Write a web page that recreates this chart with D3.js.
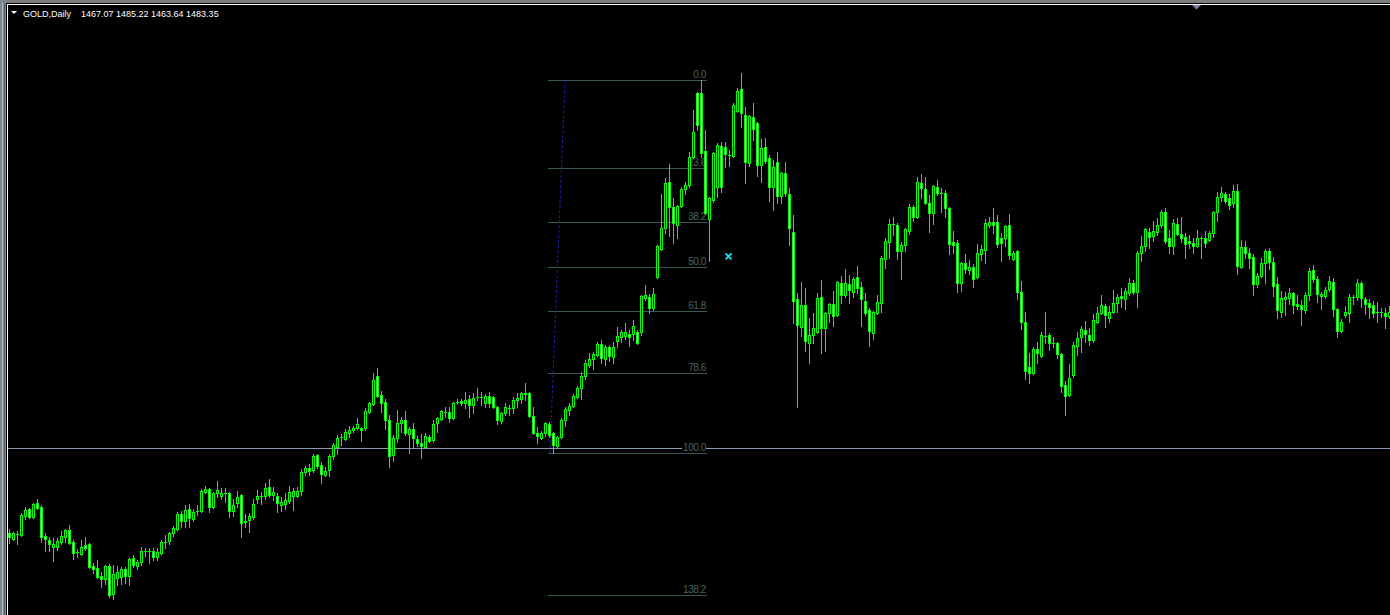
<!DOCTYPE html>
<html>
<head>
<meta charset="utf-8">
<script src="https://cdn.jsdelivr.net/npm/d3@7"></script>
<style>
html, body { margin: 0; padding: 0; background: #000; overflow: hidden; }
</style>
</head>
<body>
<div id="chart"></div>
<script>
// GOLD daily bars (oldest first)
var open = [
1373.5,1370.5,1373,1372.5,1382,1385.5,1381.5,1388.5,1386.5,1372,
1370,1366.5,1366.5,1369,1371.5,1375,1369,1364,1363,1367.5,
1368,1357,1356,1352,1350.5,1357,1343,1351,1351.5,1355.5,
1352,1361,1357,1359,1364.5,1364.5,1364.5,1361.5,1363.5,1369,
1369.5,1373.5,1375.5,1383,1379.5,1385.5,1380.5,1384.5,1384.5,1394,
1395.5,1386.5,1393.5,1392,1393.5,1393.5,1384.5,1388.5,1392.5,1379.5,
1380,1381.5,1390.5,1392,1392,1396.5,1392.5,1392,1387.5,1388,
1389.5,1392,1392,1394.5,1404,1406,1405,1412.5,1407.5,1402.5,
1405,1412,1416.5,1421.5,1420.5,1423.5,1425,1426,1426,1426,
1434,1438,1452,1442.5,1439,1430,1412.5,1421,1428.5,1430,
1423,1425.5,1420.5,1418.5,1416.5,1421.5,1420,1428.5,1430.5,1434,
1434,1431,1439,1439.5,1438.5,1440.5,1437.5,1441.5,1441.5,1438.5,
1442,1441.5,1436.5,1429.5,1433.5,1436,1436,1440,1440.5,1443.5,
1443.5,1432,1423.5,1421,1423.5,1428,1423.5,1417,1421.5,1430,
1435,1437,1441.5,1446,1452,1457.5,1460.5,1462.5,1468,1460.5,
1466.5,1461.5,1469.5,1471.5,1472,1473,1473,1474,1474,1491,
1491.5,1486,1501.5,1515.5,1526,1549,1536.5,1527.5,1537,1545.5,
1547.5,1561.5,1593.5,1593.5,1564.5,1530.5,1540,1546.5,1567,1566.5,
1562.5,1562,1584.5,1595.5,1582.5,1558.5,1581.5,1578.5,1557.5,1566.5,
1561,1546.5,1559,1542,1553.5,1543,1524,1490.5,1476.5,1487.5,
1468.5,1472.5,1474,1491.5,1476,1483.5,1488,1482.5,1498.5,1492.5,
1498,1494,1501.5,1496.5,1489.5,1485,1473.5,1483.5,1488.5,1510.5,
1519,1528,1527.5,1514.5,1517.5,1524.5,1536.5,1531.5,1548.5,1545.5,
1538.5,1533.5,1546.5,1543.5,1543.5,1536,1519,1518.5,1498.5,1508.5,
1505,1506.5,1501.5,1513,1515,1527.5,1529,1529,1521,1521,
1527.5,1510.5,1514.5,1494,1479,1456.5,1453.5,1465.5,1462,1472,
1472.5,1468.5,1468.5,1463,1447.5,1442.5,1452.5,1467,1471.5,1475,
1472.5,1470,1479,1483.5,1487,1481,1484,1488.5,1492,1490.5,
1493.5,1498.5,1494,1513.5,1517,1524,1522,1524,1527.5,1534,
1521,1517,1528,1523,1521.5,1519.5,1518.5,1517,1521,1521,
1520,1523.5,1534,1541.5,1543,1541,1538.5,1544.5,1506.5,1516.5,
1513.5,1511.5,1498,1502,1508.5,1514.5,1509,1498,1484,1490.5,
1491,1493.5,1488,1487.5,1485,1492.5,1505,1500.5,1492,1492,
1495.5,1499,1485.5,1474.5,1482.5,1483.5,1491.5,1491.5,1498.5,1490.5,
1488.5,1487.5,1484,1484,1483.5,1482
];
var high = [
1375.5,1374,1374.5,1383.5,1386.5,1386,1388.5,1390.5,1387.5,1373.5,
1371.5,1371,1371,1374.5,1375.5,1377.5,1370,1365.5,1370,1371.5,
1368.5,1358.5,1360,1354,1357.5,1358,1357.5,1357,1356.5,1356.5,
1361,1362.5,1360,1366.5,1366,1366,1366,1366,1370,1372.5,
1374,1377,1384,1384.5,1387.5,1388,1385.5,1387.5,1395.5,1397,
1396,1394,1399.5,1396,1396,1394,1390.5,1394.5,1393,1383,
1383.5,1390.5,1395,1394,1398.5,1400.5,1396.5,1393.5,1391.5,1393.5,
1397,1396,1396.5,1405.5,1407,1408,1413,1413,1409,1406.5,
1413,1418.5,1422.5,1423,1425.5,1427,1427,1431,1426.5,1436,
1439,1453.5,1456,1444.5,1440.5,1432.5,1422.5,1435,1431.5,1434.5,
1426.5,1428.5,1422,1423,1423.5,1422.5,1430,1431.5,1435,1436.5,
1436.5,1439,1440.5,1440.5,1444,1442.5,1443.5,1446,1444,1443,
1444,1442,1437,1434,1438.5,1437.5,1441.5,1443.5,1444,1448.5,
1444,1436.5,1426.5,1424.5,1429,1429,1424,1422,1431,1436.5,
1438.5,1443,1447,1454,1460,1463.5,1464,1469,1470,1467.5,
1467.5,1469,1476.5,1475,1478.5,1475,1480,1475,1492.5,1497.5,
1493,1496,1517.5,1543,1551,1558,1541,1537.5,1546.5,1549,
1564,1585,1594,1600,1575,1541.5,1564,1568.5,1569,1569,
1565,1588.5,1596,1603.5,1586.5,1582.5,1588.5,1579,1570.5,1571,
1562.5,1560,1564,1554,1559,1546,1532.5,1493.5,1499,1496,
1481,1483.5,1493.5,1500,1484,1488.5,1494.5,1499.5,1502,1505.5,
1502.5,1501.5,1507,1499,1493.5,1486,1484.5,1492.5,1512,1521,
1530.5,1531.5,1528.5,1519,1526,1538,1537.5,1551.5,1553,1551.5,
1542.5,1547.5,1550,1546,1545,1536.5,1524.5,1520,1509,1513,
1510,1508,1518,1517.5,1530.5,1531.5,1536,1532.5,1523.5,1527.5,
1533,1514.5,1515,1499.5,1484,1463.5,1466.5,1469,1474,1484,
1473.5,1471.5,1469,1463.5,1449.5,1458,1469,1474,1477,1479.5,
1476,1483,1486.5,1492.5,1488,1487,1495,1493,1496,1496,
1501,1500,1514.5,1522,1526,1526,1529.5,1531,1535,1536,
1525,1530.5,1531,1531.5,1523.5,1522.5,1521,1525,1522,1524.5,
1524.5,1534.5,1544,1546.5,1544,1543,1547.5,1548,1520,1519.5,
1516,1513,1503.5,1511,1515.5,1516,1511.5,1501.5,1494.5,1494,
1496,1494,1492.5,1490,1494,1506,1507.5,1502,1494,1496.5,
1502,1501,1486,1480.5,1487,1493,1492.5,1500.5,1499.5,1491.5,
1490.5,1489.5,1489,1486,1486,1487
];
var low = [
1368.5,1370,1368,1372,1380.5,1381,1381,1385.5,1369,1364.5,
1364.5,1359.5,1365,1368,1369,1368,1360.5,1361.5,1362.5,1365,
1356,1353.5,1351,1346.5,1348,1341.5,1340.5,1347.5,1348,1348.5,
1347.5,1356.5,1355.5,1357.5,1362,1358.5,1360,1360,1363,1366,
1368,1372,1375,1376.5,1376.5,1376.5,1379.5,1382.5,1384,1393.5,
1384,1386,1391.5,1390.5,1389,1381.5,1382,1386.5,1371.5,1376.5,
1374,1380.5,1388.5,1388,1390.5,1391.5,1390,1384,1384.5,1385.5,
1388.5,1385,1391.5,1392.5,1402.5,1402.5,1404,1406,1398.5,1402,
1402,1410.5,1413,1417.5,1420,1421.5,1424,1425.5,1419.5,1425,
1433.5,1437.5,1441.5,1434,1425.5,1406.5,1409.5,1419,1424,1422.5,
1413.5,1416,1417,1411,1416,1419,1419,1424,1430,1431.5,
1429,1430.5,1438,1437.5,1436,1431.5,1433.5,1440,1437.5,1436.5,
1436.5,1436,1428,1428.5,1432.5,1432.5,1433.5,1436.5,1438.5,1440,
1431.5,1423,1418.5,1420.5,1422,1421.5,1413.5,1416.5,1421,1427,
1432.5,1436.5,1441,1440.5,1450.5,1456.5,1455.5,1462,1458.5,1457.5,
1459.5,1458.5,1466.5,1469,1470.5,1467,1470,1468,1472.5,1490,
1483.5,1485,1501,1515,1523.5,1522,1518.5,1521,1536.5,1543,
1546.5,1561,1575,1561.5,1533,1509.5,1539,1541.5,1544,1556.5,
1557,1561.5,1584,1576.5,1548.5,1557,1570,1552,1549,1558.5,
1539.5,1535,1538.5,1538.5,1542,1517.5,1478.5,1436.5,1472,1464.5,
1458.5,1468.5,1473.5,1463.5,1464.5,1479,1477,1482,1488.5,1491.5,
1488.5,1491.5,1493.5,1477,1482.5,1467,1470.5,1483,1484,1506,
1511,1522.5,1510.5,1500.5,1514.5,1523,1529.5,1531,1541,1538,
1524,1528,1542.5,1534,1531.5,1513,1513.5,1494,1494.5,1503.5,
1503,1496.5,1501,1510,1508.5,1526.5,1523.5,1516.5,1509.5,1517,
1510.5,1510,1490.5,1475.5,1450.5,1448.5,1453,1458.5,1461.5,1468.5,
1465,1466.5,1461,1444,1432.5,1442,1451.5,1462.5,1464,1469,
1467.5,1469,1478.5,1483,1476.5,1479,1483.5,1484,1486.5,1485.5,
1492.5,1493,1486.5,1509.5,1514.5,1516,1519.5,1522.5,1526.5,1518.5,
1513.5,1513,1522.5,1519,1511,1516,1513.5,1516.5,1511,1516.5,
1519.5,1521.5,1529.5,1539.5,1538.5,1535.5,1536.5,1503,1506,1511,
1506,1492.5,1496.5,1501.5,1498.5,1505.5,1492,1481,1481.5,1482.5,
1488,1483.5,1485.5,1477.5,1483.5,1490,1499,1489,1485.5,1491,
1494.5,1482,1471.5,1474,1481.5,1479,1488,1490,1486.5,1483,
1481,1481.5,1479,1481.5,1476,1481
];
var close = [
1371.5,1373.5,1373,1382.5,1385,1381.5,1388,1386,1371.5,1370.5,
1368,1368,1369.5,1372,1375,1368.5,1363.5,1364,1366.5,1366,
1356.5,1355.5,1351.5,1350.5,1357,1342.5,1353,1354,1355.5,1352,
1360.5,1357.5,1359,1364.5,1364.5,1364.5,1361.5,1364,1369,1369,
1373.5,1376,1383,1379.5,1385,1381,1384,1384.5,1394.5,1395.5,
1386.5,1393.5,1395,1393.5,1393.5,1384.5,1387.5,1391.5,1378.5,1379,
1382,1388,1392,1392,1396,1392.5,1394,1388.5,1389,1390,
1394,1394.5,1394.5,1404,1406,1404.5,1412,1407,1403,1404.5,
1412,1417.5,1421,1421.5,1424,1425,1426,1428,1425,1434.5,
1438.5,1450,1442,1438.5,1430,1412,1421,1428.5,1430,1423.5,
1425.5,1421,1418.5,1417,1422,1419.5,1428,1431,1434.5,1434,
1431,1438.5,1439,1438.5,1440,1437.5,1441,1441.5,1441.5,1442,
1438.5,1436.5,1430,1433.5,1436.5,1436,1440,1441,1443.5,1443,
1432,1423.5,1422,1423.5,1428.5,1422.5,1417.5,1421.5,1430,1435.5,
1437,1442,1446,1452,1458.5,1460.5,1463,1468,1461,1466.5,
1462,1466.5,1472,1474,1474,1471.5,1477,1468.5,1492,1492.5,
1486,1493,1517,1526,1548.5,1536.5,1528.5,1537,1545.5,1547.5,
1561.5,1574,1577.5,1563.5,1533.5,1541,1563.5,1567.5,1546.5,1563,
1562.5,1587.5,1594.5,1583.5,1559,1582,1575.5,1557.5,1566,1559.5,
1546.5,1556.5,1542,1553.5,1543.5,1526,1489.5,1477.5,1487.5,1469.5,
1472.5,1476,1491,1476,1483.5,1488,1482,1499,1492.5,1498.5,
1495,1500.5,1496,1490.5,1483.5,1474.5,1484,1489,1511,1519.5,
1528,1528,1514.5,1517.5,1525.5,1536.5,1531.5,1549,1546,1538.5,
1533.5,1547,1543.5,1543.5,1536,1518,1517.5,1498.5,1508.5,1505.5,
1506.5,1500.5,1513.5,1515.5,1528.5,1529,1527.5,1518,1518.5,1527,
1512.5,1513.5,1494,1479,1454.5,1453.5,1465.5,1463.5,1472.5,1472,
1468.5,1468.5,1463,1447,1442,1451,1467.5,1471,1475.5,1473,
1470,1480,1483.5,1487.5,1482.5,1484,1488.5,1491.5,1491,1494.5,
1498.5,1494,1513.5,1517,1525.5,1521.5,1524.5,1527.5,1534,1519.5,
1517,1528.5,1523,1521,1518,1518.5,1517,1521,1521,1518.5,
1523.5,1534,1541.5,1543.5,1539.5,1537.5,1544.5,1507,1516.5,1513.5,
1511,1498,1502,1508.5,1514.5,1509,1497,1485,1491,1491.5,
1493.5,1487.5,1487,1485.5,1492.5,1504.5,1500.5,1493,1493,1495,
1499.5,1485.5,1474.5,1479,1484,1491.5,1491.5,1498.5,1491,1488,
1486.5,1483.5,1484,1484,1482,1484
];

// objects on the chart
var fibLevels = [0, 23.6, 38.2, 50, 61.8, 78.6, 100, 138.2];
var fibHigh = 1600, fibLow = 1413.5;
var fibBars = [134.75, 174.5];             // bar index span of the level lines
var fibTrend = [[135.1, 1413.5], [138.9, 1600]];
var hLinePrice = 1416;
var arrowMark = [179.75, 1511.8];
var symbolText = "GOLD,Daily";
var lastBar = ["1467.07", "1485.22", "1463.64", "1483.35"];

var W = 1390, H = 615;
var svg = d3.select("#chart").append("svg")
  .attr("width", W).attr("height", H)
  .style("display", "block")
  .style("background", "#000");

// window frame
svg.append("rect").attr("x", 0).attr("y", 0).attr("width", W).attr("height", 3).attr("fill", "#7c7c7c");
svg.append("rect").attr("x", 0).attr("y", 0).attr("width", 6).attr("height", H).attr("fill", "#7d848c");
svg.append("rect").attr("x", 2).attr("y", 3).attr("width", 1).attr("height", H).attr("fill", "#b8bec4");
svg.append("rect").attr("x", 4).attr("y", 3).attr("width", 1).attr("height", H).attr("fill", "#5a6068");
svg.append("rect").attr("x", 7).attr("y", 4).attr("width", W - 7).attr("height", 1).attr("fill", "#ffffff");
svg.append("rect").attr("x", 7).attr("y", 4).attr("width", 1).attr("height", H).attr("fill", "#ffffff");

var n = d3.min([open.length, high.length, low.length, close.length]);
var bars = d3.range(n).map(function(i) {
  return {i: i, o: open[i], h: high[i], l: low[i], c: close[i]};
});

// bar index -> left pixel column of the bar centre
var x = d3.scaleLinear().domain([0, 1]).range([9, 13]);
var y = d3.scaleLinear().domain([fibLow, fibHigh]).range([453, 80]);
function sy(v) { return Math.round(y(v)); }
function sx(i) { return Math.round(x(i)); }

svg.append("defs").append("clipPath").attr("id", "plot")
  .append("rect").attr("x", 8).attr("y", 5).attr("width", W - 8).attr("height", H - 5);

var plot = svg.append("g").attr("clip-path", "url(#plot)").attr("shape-rendering", "crispEdges");

// horizontal line
plot.append("rect")
  .attr("x", 8).attr("width", W - 8)
  .attr("y", sy(hLinePrice)).attr("height", 1)
  .attr("fill", "#8e9aae");

// fibonacci levels
var fibColor = "#3a5858";
var fx0 = sx(fibBars[0]), fx1 = sx(fibBars[1]);
function fibY(d) { return sy(fibHigh - d / 100 * (fibHigh - fibLow)); }
var fib = plot.append("g");
fib.selectAll("rect.lvl").data(fibLevels).enter().append("rect")
  .attr("class", "lvl")
  .attr("x", fx0).attr("width", fx1 - fx0)
  .attr("y", fibY).attr("height", 1)
  .attr("fill", fibColor);

var lbl = fib.selectAll("g.lbl").data(fibLevels).enter().append("g").attr("class", "lbl")
  .attr("transform", function(d) { return "translate(" + (fx1 - 1) + "," + (fibY(d) - 2) + ")"; });
lbl.append("rect").attr("x", -24).attr("y", -8).attr("width", 24).attr("height", 9).attr("fill", "#000");
lbl.append("text")
  .attr("text-anchor", "end")
  .attr("font-family", "'Liberation Sans', Arial, sans-serif")
  .attr("font-size", "10px")
  .attr("letter-spacing", "-0.4px")
  .attr("fill", "#456464")
  .attr("shape-rendering", "auto")
  .text(function(d) { return d.toFixed(1); });

// fibo trend line (dashed)
plot.append("line")
  .attr("shape-rendering", "auto")
  .attr("x1", x(fibTrend[0][0]) + 0.5).attr("y1", y(fibTrend[0][1]))
  .attr("x2", x(fibTrend[1][0]) + 0.5).attr("y2", y(fibTrend[1][1]))
  .attr("stroke", "#1d1db4").attr("stroke-width", 1)
  .attr("stroke-dasharray", "3,2");

// candles: wick, 3px outline, 1px inner column (white = down bar, black = up bar)
var cg = plot.append("g");
var candle = cg.selectAll("g.bar").data(bars).enter().append("g").attr("class", "bar");

candle.append("rect")
  .attr("x", function(d) { return sx(d.i); })
  .attr("width", 1)
  .attr("y", function(d) { return sy(d.h); })
  .attr("height", function(d) { return sy(d.l) - sy(d.h) + 1; })
  .attr("fill", "#00ff00");

candle.append("rect")
  .attr("x", function(d) { return sx(d.i) - 1; })
  .attr("width", 3)
  .attr("y", function(d) { return sy(Math.max(d.o, d.c)); })
  .attr("height", function(d) { return sy(Math.min(d.o, d.c)) - sy(Math.max(d.o, d.c)) + 1; })
  .attr("fill", "#00ff00");

candle.filter(function(d) { return sy(Math.min(d.o, d.c)) - sy(Math.max(d.o, d.c)) >= 2; })
  .append("rect")
  .attr("x", function(d) { return sx(d.i); })
  .attr("width", 1)
  .attr("y", function(d) { return sy(Math.max(d.o, d.c)) + 1; })
  .attr("height", function(d) { return sy(Math.min(d.o, d.c)) - sy(Math.max(d.o, d.c)) - 1; })
  .attr("fill", function(d) { return d.c < d.o ? "#ffffff" : "#000000"; });

// cross arrow object
var ax = x(arrowMark[0]) + 0.5, ay = y(arrowMark[1]);
plot.append("path")
  .attr("shape-rendering", "auto")
  .attr("d", "M" + (ax - 3) + "," + (ay - 3) + "L" + (ax + 3) + "," + (ay + 3) +
             "M" + (ax + 3) + "," + (ay - 3) + "L" + (ax - 3) + "," + (ay + 3))
  .attr("stroke", "#19d8f0").attr("stroke-width", 2).attr("fill", "none");

// header
svg.append("path").attr("d", "M11,11L17,11L14,14Z").attr("fill", "#ffffff");
svg.append("text")
  .attr("x", 23).attr("y", 16.5)
  .attr("font-family", "'Liberation Sans', Arial, sans-serif")
  .attr("font-size", "9px").attr("fill", "#ffffff")
  .text(symbolText);
svg.append("text")
  .attr("x", 81).attr("y", 16.5)
  .attr("font-family", "'Liberation Sans', Arial, sans-serif")
  .attr("font-size", "9px").attr("fill", "#ffffff")
  .text(lastBar.join(" "));

// chart shift marker
svg.append("path").attr("d", "M1192,5L1201,5L1196.5,9.5Z").attr("fill", "#7b8798");
</script>
</body>
</html>
